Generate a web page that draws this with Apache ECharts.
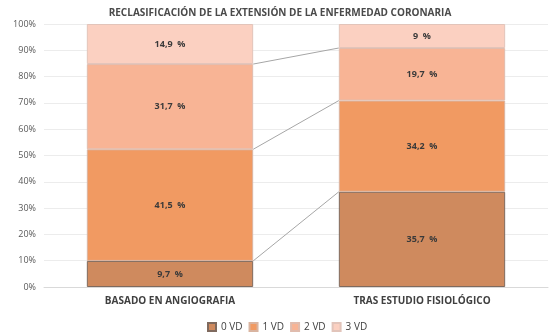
<!DOCTYPE html>
<html><head><meta charset="utf-8">
<script src="https://cdn.jsdelivr.net/npm/echarts@6/dist/echarts.min.js"></script>
<style>html,body{margin:0;padding:0;background:#fff}#c{width:560px;height:334px}</style>
</head><body><div id="c"></div>
<script>
var categories = ['BASADO EN ANGIOGRAFIA', 'TRAS ESTUDIO FISIOLÓGICO'];
var seriesNames = ['0 VD', '1 VD', '2 VD', '3 VD'];
var vd0 = [9.7, 35.7];
var vd1 = [41.5, 34.2];
var vd2 = [31.7, 19.7];
var vd3 = [14.9, 9];
var yTicks = [0, 10, 20, 30, 40, 50, 60, 70, 80, 90, 100];

var raw = [vd0, vd1, vd2, vd3];
var totals = categories.map(function (_, i) { return raw.reduce(function (s, a) { return s + a[i]; }, 0); });
var colors = ['#cf8a5e', '#f19a62', '#f8b495', '#fbd0c1'];
var borders = ['#7f6a5e', '#d9b4a0', '#e0bcae', '#e2c4ba'];
var font = 'Open Sans';

// cumulative boundaries (normalized) for series lines
var cum = categories.map(function (_, i) {
  var c = 0, out = [];
  for (var k = 0; k < raw.length - 1; k++) { c += raw[k][i] / totals[i] * 100; out.push(c); }
  return out;
});
var lineData = [];
for (var k = 0; k < raw.length - 1; k++) lineData.push([k, cum[0][k], cum[1][k]]);

var barPct = 0.66;
var series = raw.map(function (arr, k) {
  return {
    name: seriesNames[k], type: 'bar', stack: 's', barWidth: (barPct * 100) + '%',
    itemStyle: { color: colors[k], borderColor: borders[k], borderWidth: 1 },
    label: {
      show: true, position: 'inside', color: '#3a3a3a', fontFamily: font, fontSize: 9, fontWeight: 'bold',
      formatter: function (p) { return String(arr[p.dataIndex]).replace('.', ',') + '  %'; }
    },
    data: arr.map(function (v, i) { return v / totals[i] * 100; })
  };
});
series.push({
  type: 'custom', silent: true, z: 1,
  renderItem: function (params, api) {
    var band = api.size([1, 0])[0];
    var p1 = api.coord([0, api.value(1)]);
    var p2 = api.coord([1, api.value(2)]);
    return {
      type: 'line',
      shape: { x1: p1[0] + band * barPct / 2, y1: p1[1], x2: p2[0] - band * barPct / 2, y2: p2[1] },
      style: { stroke: '#a6a6a6', lineWidth: 1 }
    };
  },
  data: lineData
});

var chart = echarts.init(document.getElementById('c'));
chart.setOption({
  animation: false,
  title: {
    text: 'RECLASIFICACIÓN DE LA EXTENSIÓN DE LA ENFERMEDAD CORONARIA', left: 'center', top: 3,
    textStyle: { fontFamily: font, fontSize: 10, fontWeight: 'bold', color: '#4a4a4a' }
  },
  legend: {
    data: seriesNames, bottom: -3, left: 202, itemWidth: 8, itemHeight: 8, itemGap: 6, icon: 'rect',
    textStyle: { fontFamily: font, fontSize: 10, color: '#404040' }
  },
  grid: { left: 44, right: 12, top: 24, bottom: 47 },
  xAxis: {
    type: 'category', data: categories,
    axisLine: { lineStyle: { color: '#d9d9d9' } }, axisTick: { show: false },
    axisLabel: { fontFamily: font, fontSize: 10, fontWeight: 'bold', color: '#404040', margin: 9 }
  },
  yAxis: {
    type: 'value', min: 0, max: 100, interval: 10,
    axisLabel: { fontFamily: font, fontSize: 9, color: '#595959', formatter: '{value}%' },
    splitLine: { lineStyle: { color: '#ececec' } }, axisLine: { show: false }, axisTick: { show: false }
  },
  series: series
});
</script></body></html>
